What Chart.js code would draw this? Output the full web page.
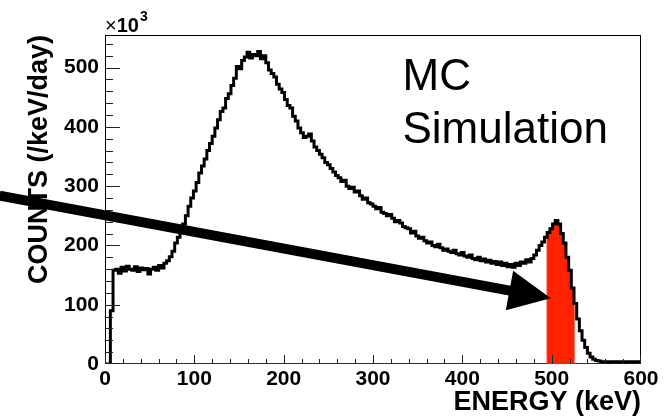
<!DOCTYPE html>
<html><head><meta charset="utf-8">
<script src="https://cdn.jsdelivr.net/npm/chart.js@4/dist/chart.umd.min.js"></script>
<style>html,body{margin:0;padding:0;background:#fff;overflow:hidden}</style>
</head><body>
<canvas id="c" width="664" height="420"></canvas>
<script>
// ---- data (counts in units of 10^3 /keV/day, 3 keV bins starting at 0 keV) ----
const BIN_KEV = 3;
const countsK = [
  0,0,90,158,160,153,163,157,165,160,
  158,164,156,162,159,161,152,160,163,158,
  166,162,170,174,181,190,204,214,225,236,
  250,266,280,292,306,322,334,346,360,372,
  384,398,412,426,432,448,456,470,482,502,
  498,512,518,526,516,522,520,527,515,520,
  508,496,490,484,472,464,458,446,436,432,
  418,410,398,390,382,384,388,376,366,360,
  354,348,340,336,330,324,318,314,308,310,
  300,296,298,290,292,284,278,280,272,270,
  266,262,264,256,254,250,252,246,240,242,
  238,232,230,228,221,224,216,212,214,208,
  204,206,200,198,202,196,192,194,190,188,
  192,186,184,188,182,180,184,178,176,180,
  174,177,172,175,170,173,168,172,166,170,
  164,168,163,170,166,172,170,176,172,178,
  184,192,200,206,214,222,228,236,242,236,
  220,204,180,158,128,102,76,56,40,28,
  18,12,8,6,5,4,4,4,3,4,
  4,3,4,4,3,4,4,3,4,4
];
const redWindowKeV = [495, 525];
const xTickValues = [0,100,200,300,400,500,600];
const yTickValues = [0,100,200,300,400,500];
const xMinorStep = 20;
const yMinorStep = 20;
const xRange = [0, 600];
const yRange = [0, 555];
const arrowTail = {x: -118, y: 284};
const arrowTip  = {x: 499, y: 111};
const noteLines = ['MC', 'Simulation'];
const notePos = {x: 333, y: 462};
const xTitle = 'ENERGY (keV)';
const yTitle = 'COUNTS (/keV/day)';

// ---- build datasets ----
const histPoints = countsK.map((v,i)=>({x:i*BIN_KEV, y:v}));
histPoints.push({x: countsK.length*BIN_KEV, y: countsK[countsK.length-1]});
const redPoints = countsK.map((v,i)=>{
  const e = i*BIN_KEV;
  return {x:e, y:(e>=redWindowKeV[0] && e<redWindowKeV[1]) ? v : 0};
});
redPoints.push({x: countsK.length*BIN_KEV, y: 0});

const FONT = '"Liberation Sans", Arial, Helvetica, sans-serif';

function drawFrameTicks(chart){
  const ctx = chart.ctx, a = chart.chartArea, sx = chart.scales.x, sy = chart.scales.y;
  const L = Math.round(a.left), T = Math.round(a.top), R = Math.round(a.right), B = Math.round(a.bottom);
  ctx.save();
  ctx.fillStyle = '#000';
  ctx.fillRect(L, T, 1, B - T);
  ctx.fillRect(L, T, R - L, 1);
  ctx.fillRect(R - 1, T, 1, B - T);
  ctx.fillStyle = '#222';
  for (let v = xRange[0]; v <= xRange[1]; v += xMinorStep){
    const px = Math.round(sx.getPixelForValue(v));
    const len = (v % 100 === 0) ? 9 : 5;
    ctx.fillRect(Math.min(px, R - 1), B - len, 1, len);
  }
  for (let v = yRange[0]; v <= yRange[1]; v += yMinorStep){
    const py = Math.round(sy.getPixelForValue(v));
    const len = (v % 100 === 0) ? 15 : 8;
    ctx.fillRect(L, Math.min(py, B - 1), len, 1);
  }
  ctx.restore();
}

const decor = {
  id:'decor',
  beforeDatasetsDraw(chart){
    const ctx = chart.ctx, a = chart.chartArea;
    ctx.save();
    ctx.fillStyle = '#000';
    ctx.fillRect(Math.round(a.left), Math.round(a.bottom) - 1, Math.round(a.right - a.left), 1);
    ctx.restore();
  },
  afterDraw(chart){
    drawFrameTicks(chart);
    const ctx = chart.ctx, a = chart.chartArea, x = chart.scales.x, y = chart.scales.y;
    ctx.save();
    // arrow
    const tx = x.getPixelForValue(arrowTail.x), ty = y.getPixelForValue(arrowTail.y);
    const hx = x.getPixelForValue(arrowTip.x),  hy = y.getPixelForValue(arrowTip.y);
    const ang = Math.atan2(hy-ty, hx-tx);
    const headLen = 42, headHalf = 20;
    const bx = hx - headLen*Math.cos(ang), by = hy - headLen*Math.sin(ang);
    ctx.strokeStyle = '#000'; ctx.fillStyle = '#000';
    ctx.lineWidth = 10; ctx.lineCap = 'butt';
    ctx.beginPath(); ctx.moveTo(tx,ty); ctx.lineTo(bx+3*Math.cos(ang),by+3*Math.sin(ang)); ctx.stroke();
    ctx.beginPath();
    ctx.moveTo(hx,hy);
    ctx.lineTo(bx - headHalf*Math.sin(ang), by + headHalf*Math.cos(ang));
    ctx.lineTo(bx + headHalf*Math.sin(ang), by - headHalf*Math.cos(ang));
    ctx.closePath(); ctx.fill();
    // x10^3 multiplier
    ctx.textBaseline = 'alphabetic'; ctx.textAlign = 'left';
    ctx.font = '20px ' + FONT;
    let px = a.left;
    ctx.fillText('\u00d7', px, a.top-3);
    px += ctx.measureText('\u00d7').width;
    ctx.font = 'bold 20px ' + FONT;
    ctx.fillText('10', px, a.top-3);
    px += ctx.measureText('10').width + 1;
    ctx.font = 'bold 14px ' + FONT;
    ctx.fillText('3', px, a.top-14);
    // note
    ctx.font = '44px ' + FONT;
    const nx = x.getPixelForValue(notePos.x), ny = y.getPixelForValue(notePos.y);
    noteLines.forEach((t,i)=> ctx.fillText(t, nx, ny + i*53));
    ctx.restore();
  }
};

new Chart(document.getElementById('c'), {
  type:'line',
  data:{datasets:[
    {data:histPoints, stepped:true, borderColor:'#000', borderWidth:3, pointRadius:0, fill:false},
    {data:redPoints, stepped:true, borderColor:'#ff2200', backgroundColor:'#ff2200', borderWidth:1.2, pointRadius:0, fill:'origin'}
  ]},
  options:{
    responsive:false, animation:false, devicePixelRatio:1,
    layout:{padding:{top:35, right:23, left:0, bottom:0}},
    plugins:{legend:{display:false}, tooltip:{enabled:false}},
    scales:{
      x:{type:'linear', min:xRange[0], max:xRange[1],
         afterBuildTicks:s=>{ s.ticks = xTickValues.map(v=>({value:v})); },
         afterFit:s=>{ s.height = 56; },
         grid:{display:false, drawTicks:false}, border:{display:false},
         ticks:{color:'#000', padding:5, maxRotation:0, autoSkip:false,
                font:{family:FONT, size:21, weight:'bold', lineHeight:1}},
         title:{display:true, text:xTitle, align:'end', color:'#000', padding:{top:0,bottom:4},
                font:{family:FONT, size:27, weight:'bold', lineHeight:1}}
      },
      y:{type:'linear', min:yRange[0], max:yRange[1],
         afterBuildTicks:s=>{ s.ticks = yTickValues.map(v=>({value:v})); },
         afterFit:s=>{ s.width = 105; },
         grid:{display:false, drawTicks:false}, border:{display:false},
         ticks:{color:'#000', padding:6, autoSkip:false,
                font:{family:FONT, size:21, weight:'bold', lineHeight:1}},
         title:{display:true, text:yTitle, align:'end', color:'#000', padding:{top:26,bottom:0},
                font:{family:FONT, size:27, weight:'bold', lineHeight:1}}
      }
    }
  },
  plugins:[decor]
});
</script>
</body></html>
